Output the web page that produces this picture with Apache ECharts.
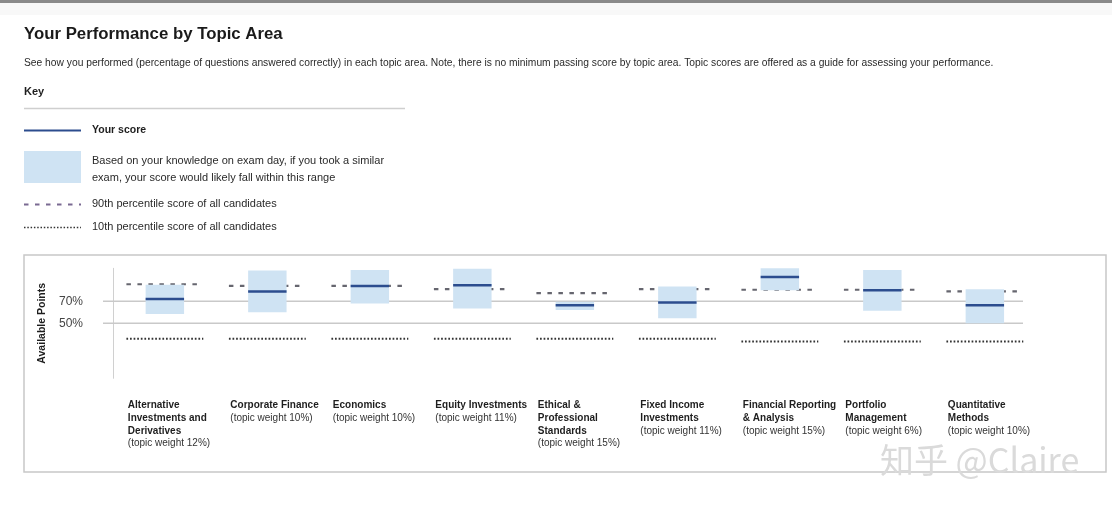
<!DOCTYPE html>
<html>
<head>
<meta charset="utf-8">
<script src="https://cdn.jsdelivr.net/npm/echarts@6/dist/echarts.min.js"></script>
<style>
html,body{margin:0;padding:0;background:#fff;}
#chart{width:1112px;height:507px;}
</style>
</head>
<body>
<div id="chart"></div>
<script>
// ---- data ----
const categories = [
  "Alternative\nInvestments and\nDerivatives",
  "Corporate Finance",
  "Economics",
  "Equity Investments",
  "Ethical &\nProfessional\nStandards",
  "Fixed Income\nInvestments",
  "Financial Reporting\n& Analysis",
  "Portfolio\nManagement",
  "Quantitative\nMethods"
];
const topicWeights = [12, 10, 10, 11, 15, 11, 15, 6, 10];
const yourScore   = [72, 79, 84, 84.5, 66.5, 69, 92, 80, 66.5];
const rangeLow    = [58.5, 60, 68, 63.5, 62, 54.5, 80, 61.5, 50];
const rangeHigh   = [85, 98, 98.5, 99.5, 69.5, 83.5, 100, 98.5, 81];
const pct90       = [85.5, 84, 84, 81, 77.5, 81, 80.5, 80.5, 79];
const pct10       = [36, 36, 36, 36, 36, 36, 33.5, 33.5, 33.5];
const yTickValues = [50, 70];

// ---- layout ----
const FONT = "'Liberation Sans', Arial, Helvetica, sans-serif";
const GRID_TOP = 268.3, GRID_H = 110;
const PLOT_LEFT = 113.6, PLOT_W = 922.5;

const chart = echarts.init(document.getElementById('chart'), null, {renderer: 'canvas'});

function idxData(arr) { return arr.map((v, i) => [i, v]); }

const option = {
  backgroundColor: '#ffffff',
  animation: false,
  textStyle: {fontFamily: FONT},
  grid: [
    {left: PLOT_LEFT, width: PLOT_W, top: GRID_TOP, height: GRID_H},           // data
    {left: 103, width: 920, top: GRID_TOP, height: GRID_H},                    // gridlines & y labels
    {left: PLOT_LEFT - 37, width: PLOT_W, top: GRID_TOP, height: GRID_H}       // category labels
  ],
  xAxis: [
    {gridIndex: 0, type: 'category', data: categories, show: true,
      axisLine: {show: false}, axisTick: {show: false}, axisLabel: {show: false}, splitLine: {show: false}},
    {gridIndex: 1, type: 'value', min: 0, max: 1, show: false},
    {gridIndex: 2, type: 'category', data: categories,
      axisLine: {show: false}, axisTick: {show: false}, splitLine: {show: false},
      axisLabel: {
        show: true, interval: 0, align: 'left', verticalAlign: 'top', margin: 20.5,
        formatter: function (value, index) {
          return value.split('\n').map(l => '{b|' + l + '}').join('\n') +
            '\n{w|(topic weight ' + topicWeights[index] + '%)}';
        },
        rich: {
          b: {fontFamily: FONT, fontSize: 10, fontWeight: 'bold', color: '#1e1e1e', lineHeight: 12.8},
          w: {fontFamily: FONT, fontSize: 10, color: '#333333', lineHeight: 12.8}
        }
      }}
  ],
  yAxis: [
    {gridIndex: 0, type: 'value', min: 0, max: 100,
      axisLine: {show: true, lineStyle: {color: '#d0d0d0', width: 1}},
      axisTick: {show: false}, axisLabel: {show: false}, splitLine: {show: false}},
    {gridIndex: 1, type: 'value', min: 0, max: 100,
      axisLine: {show: false}, axisTick: {show: false}, splitLine: {show: false},
      axisLabel: {show: true, customValues: yTickValues, formatter: '{value}%', margin: 20,
        fontFamily: FONT, fontSize: 12, color: '#444'},
      name: 'Available Points', nameLocation: 'middle', nameRotate: 90, nameGap: 53,
      nameTextStyle: {fontFamily: FONT, fontSize: 10.5, fontWeight: 'bold', color: '#1e1e1e'}},
    {gridIndex: 2, type: 'value', min: 0, max: 100, show: false}
  ],
  series: [
    { // horizontal reference gridlines
      type: 'custom', name: 'gridlines', xAxisIndex: 1, yAxisIndex: 1, z: 1, silent: true,
      data: yTickValues.map(v => [v]),
      renderItem: function (params, api) {
        const v = api.value(0);
        const a = api.coord([0, v]), b = api.coord([1, v]);
        return {type: 'line', shape: {x1: a[0], y1: a[1], x2: b[0], y2: b[1]},
          style: {stroke: '#c9c9c9', lineWidth: 1.5}};
      }
    },
    { // 90th percentile
      type: 'custom', name: '90th percentile', xAxisIndex: 0, yAxisIndex: 0, z: 2, silent: true, clip: false,
      data: idxData(pct90),
      renderItem: function (params, api) {
        const c = api.coord([api.value(0), api.value(1)]);
        const half = api.size([1, 0])[0] * 0.375;
        return {type: 'line', shape: {x1: c[0] - half, y1: c[1], x2: c[0] + half, y2: c[1]},
          style: {stroke: '#66666f', lineWidth: 2.2, lineDash: [4.5, 6.5]}};
      }
    },
    { // likely range
      type: 'custom', name: 'range', xAxisIndex: 0, yAxisIndex: 0, z: 3, silent: true, clip: false,
      data: rangeLow.map((v, i) => [i, v, rangeHigh[i]]),
      renderItem: function (params, api) {
        const x = api.value(0);
        const top = api.coord([x, api.value(2)]), bot = api.coord([x, api.value(1)]);
        const w = api.size([1, 0])[0] * 0.375;
        return {type: 'rect', shape: {x: top[0] - w / 2, y: top[1], width: w, height: bot[1] - top[1]},
          style: {fill: '#cfe3f3'}};
      }
    },
    { // your score
      type: 'custom', name: 'Your score', xAxisIndex: 0, yAxisIndex: 0, z: 4, silent: true, clip: false,
      data: idxData(yourScore),
      renderItem: function (params, api) {
        const c = api.coord([api.value(0), api.value(1)]);
        const half = api.size([1, 0])[0] * 0.375 / 2;
        return {type: 'line', shape: {x1: c[0] - half, y1: c[1], x2: c[0] + half, y2: c[1]},
          style: {stroke: '#2c4d8e', lineWidth: 2.5}};
      }
    },
    { // 10th percentile
      type: 'custom', name: '10th percentile', xAxisIndex: 0, yAxisIndex: 0, z: 2, silent: true, clip: false,
      data: idxData(pct10),
      renderItem: function (params, api) {
        const c = api.coord([api.value(0), api.value(1)]);
        const half = api.size([1, 0])[0] * 0.375;
        return {type: 'line', shape: {x1: c[0] - half, y1: c[1], x2: c[0] + half, y2: c[1]},
          style: {stroke: '#333333', lineWidth: 2, lineDash: [1.7, 1.9]}};
      }
    }
  ],
  graphic: [
    {type: 'rect', shape: {x: 0, y: 0, width: 1112, height: 3}, style: {fill: '#8a8a8a'}, silent: true},
    {type: 'rect', shape: {x: 0, y: 3, width: 1112, height: 12}, style: {fill: '#f8f8f8'}, silent: true},
    {type: 'text', x: 24, y: 34, silent: true,
      style: {text: 'Your Performance by Topic Area', font: 'bold 16.8px ' + FONT, fill: '#1a1a1a', verticalAlign: 'middle'}},
    {type: 'text', x: 24, y: 63.5, silent: true,
      style: {text: 'See how you performed (percentage of questions answered correctly) in each topic area. Note, there is no minimum passing score by topic area. Topic scores are offered as a guide for assessing your performance.',
        font: '10.27px ' + FONT, fill: '#2a2a2a', verticalAlign: 'middle'}},
    {type: 'text', x: 24, y: 91.5, silent: true,
      style: {text: 'Key', font: 'bold 11px ' + FONT, fill: '#1e1e1e', verticalAlign: 'middle'}},
    {type: 'line', shape: {x1: 24, y1: 108.5, x2: 405, y2: 108.5}, style: {stroke: '#cfcfcf', lineWidth: 1.5}, silent: true},
    // key: your score
    {type: 'line', shape: {x1: 24, y1: 130.5, x2: 81, y2: 130.5}, style: {stroke: '#2c4d8e', lineWidth: 2}, silent: true},
    {type: 'text', x: 92, y: 130, silent: true,
      style: {text: 'Your score', font: 'bold 10.5px ' + FONT, fill: '#1e1e1e', verticalAlign: 'middle'}},
    // key: range
    {type: 'rect', shape: {x: 24, y: 151, width: 57, height: 32}, style: {fill: '#cfe3f3'}, silent: true},
    {type: 'text', x: 92, y: 160.5, silent: true,
      style: {text: 'Based on your knowledge on exam day, if you took a similar', font: '11px ' + FONT, fill: '#2a2a2a', verticalAlign: 'middle'}},
    {type: 'text', x: 92, y: 177.5, silent: true,
      style: {text: 'exam, your score would likely fall within this range', font: '11px ' + FONT, fill: '#2a2a2a', verticalAlign: 'middle'}},
    // key: 90th
    {type: 'line', shape: {x1: 24, y1: 204.5, x2: 81, y2: 204.5}, style: {stroke: '#7a6a92', lineWidth: 1.8, lineDash: [4.5, 6.5]}, silent: true},
    {type: 'text', x: 92, y: 204, silent: true,
      style: {text: '90th percentile score of all candidates', font: '11px ' + FONT, fill: '#2a2a2a', verticalAlign: 'middle'}},
    // key: 10th
    {type: 'line', shape: {x1: 24, y1: 227.5, x2: 81, y2: 227.5}, style: {stroke: '#333333', lineWidth: 1.6, lineDash: [1.5, 1.8]}, silent: true},
    {type: 'text', x: 92, y: 227, silent: true,
      style: {text: '10th percentile score of all candidates', font: '11px ' + FONT, fill: '#2a2a2a', verticalAlign: 'middle'}},
    // chart box
    {type: 'rect', shape: {x: 24, y: 255, width: 1082, height: 217}, style: {fill: 'none', stroke: '#c8c8c8', lineWidth: 1.5}, silent: true, z: -1},
    // watermark
    {type: 'text', x: 880, y: 460, silent: true,
      style: {text: '知乎 @Claire', font: '34px "Noto Sans CJK SC", ' + FONT, fill: '#dadada', verticalAlign: 'middle'}}
  ]
};

chart.setOption(option);
</script>
</body>
</html>
